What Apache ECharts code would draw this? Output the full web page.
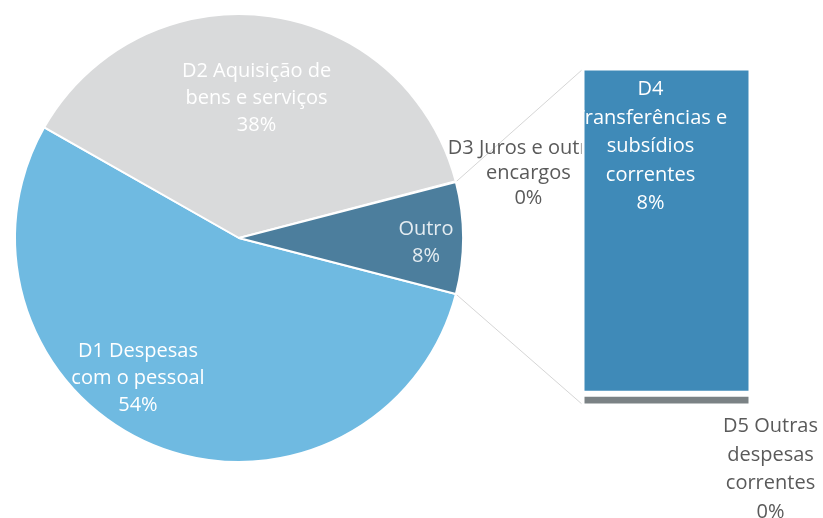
<!DOCTYPE html>
<html>
<head>
<meta charset="utf-8">
<script src="https://cdn.jsdelivr.net/npm/echarts@6/dist/echarts.min.js"></script>
<style>html,body{margin:0;padding:0;background:#fff}#c{width:823px;height:518px}</style>
</head>
<body>
<div id="c"></div>
<script>
// Pie categories and values (percent of total)
const pieNames = ['D1 Despesas\ncom o pessoal', 'D2 Aquisição de\nbens e serviços', 'D3 Juros e outros\nencargos', 'Outro'];
const pieValues = [54.2, 37.7, 0.05, null]; // Outro = sum of bar parts
// Bar (breakdown of "Outro")
const barNames = ['D5 Outras\ndespesas\ncorrentes', 'D4\nTransferências e\nsubsídios\ncorrentes'];
const barValues = [0.3, 7.75];

const FONT = '"Open Sans", sans-serif';
const outroValue = barValues.reduce((a, b) => a + b, 0);
const pieData = pieValues.map((v, i) => (i === 3 ? outroValue : v));
const total = pieData.reduce((a, b) => a + b, 0);
const outroAngle = outroValue / total * 360;
const startAngle = -outroAngle / 2;

const pieColors = ['#6fbae1', '#d9dadb', '#d9dadb', '#4c7e9d'];
const pieLabelColors = ['#ffffff', '#ffffff', '#5a5a5a', '#e4ecf1'];
// label position: half radius along the slice's mid angle, plus a shift
const pieLabelShift = [[-59, 36], [3, -29], [181, -37], [75, 5]];
const CX = 239, CY = 238, R = 224;

// mid angles (math degrees) of each slice
const midAngles = [];
(function () {
  let a = startAngle;
  pieData.forEach(v => { const span = v / total * 360; midAngles.push(a - span / 2); a -= span; });
})();

const chart = echarts.init(document.getElementById('c'), null, {renderer: 'canvas'});
const pct = v => Math.round(v / total * 100) + '%';

chart.setOption({
  backgroundColor: '#ffffff',
  animation: false,
  grid: {left: 581.5, right: 71.5, top: 67.5, bottom: 111.5, containLabel: false},
  xAxis: {type: 'category', data: ['Outro'], show: false},
  yAxis: {type: 'value', min: 0, max: outroValue, show: false},
  series: [
    {
      type: 'pie',
      z: 1,
      center: [CX, CY],
      radius: R,
      clockwise: true,
      startAngle: startAngle,
      avoidLabelOverlap: false,
      minAngle: 0,
      itemStyle: {borderColor: '#ffffff', borderWidth: 2},
      label: {
        show: true, position: 'inside', rotate: 0,
        fontFamily: FONT, fontSize: 20, lineHeight: 27,
        formatter: p => p.name + '\n' + pct(p.value)
      },
      labelLine: {show: false},
      labelLayout: p => {
        const i = p.dataIndex, m = midAngles[i] * Math.PI / 180;
        return {
          x: CX + R / 2 * Math.cos(m) + pieLabelShift[i][0],
          y: CY - R / 2 * Math.sin(m) + pieLabelShift[i][1],
          align: 'center', verticalAlign: 'middle'
        };
      },
      data: pieNames.map((n, i) => ({
        name: n, value: pieData[i],
        itemStyle: {color: pieColors[i], borderWidth: i === 2 ? 0 : 2},
        label: {color: pieLabelColors[i], lineHeight: i === 2 ? 25 : 27}
      }))
    },
    {
      type: 'bar', z: 3, stack: 'o', barWidth: '100%',
      itemStyle: {color: '#7b8285', borderColor: '#ffffff', borderWidth: 3},
      label: {
        show: true, position: 'bottom', distance: 6, offset: [104, 0],
        color: '#5a5a5a', fontFamily: FONT, fontSize: 20, lineHeight: 28.5,
        formatter: p => barNames[0] + '\n' + pct(p.value)
      },
      data: [barValues[0]]
    },
    {
      type: 'bar', z: 3, stack: 'o', barWidth: '100%',
      itemStyle: {color: '#3f8ab8', borderColor: '#ffffff', borderWidth: 3},
      label: {
        show: true, position: 'insideTop', distance: 8, offset: [-16, 0],
        color: '#ffffff', fontFamily: FONT, fontSize: 20, lineHeight: 28.5,
        formatter: p => barNames[1] + '\n' + pct(p.value)
      },
      data: [barValues[1]]
    }
  ]
});

// connector lines between the "Outro" slice and the bar
const rect = chart.getModel().getComponent('grid').coordinateSystem.getRect();
const topY = chart.convertToPixel({gridIndex: 0}, [0, outroValue])[1] + 1.5;
const botY = chart.convertToPixel({gridIndex: 0}, [0, 0])[1] - 1.5;
const a1 = (startAngle + outroAngle) * Math.PI / 180;
const a2 = startAngle * Math.PI / 180;
const barLeft = rect.x + 1.5;
chart.setOption({
  graphic: [
    {type: 'line', z: 0, shape: {x1: CX + R * Math.cos(a1), y1: CY - R * Math.sin(a1), x2: barLeft, y2: topY},
     style: {stroke: '#d6d6d6', lineWidth: 1}},
    {type: 'line', z: 0, shape: {x1: CX + R * Math.cos(a2), y1: CY - R * Math.sin(a2), x2: barLeft, y2: botY},
     style: {stroke: '#d6d6d6', lineWidth: 1}}
  ]
});
</script>
</body>
</html>
